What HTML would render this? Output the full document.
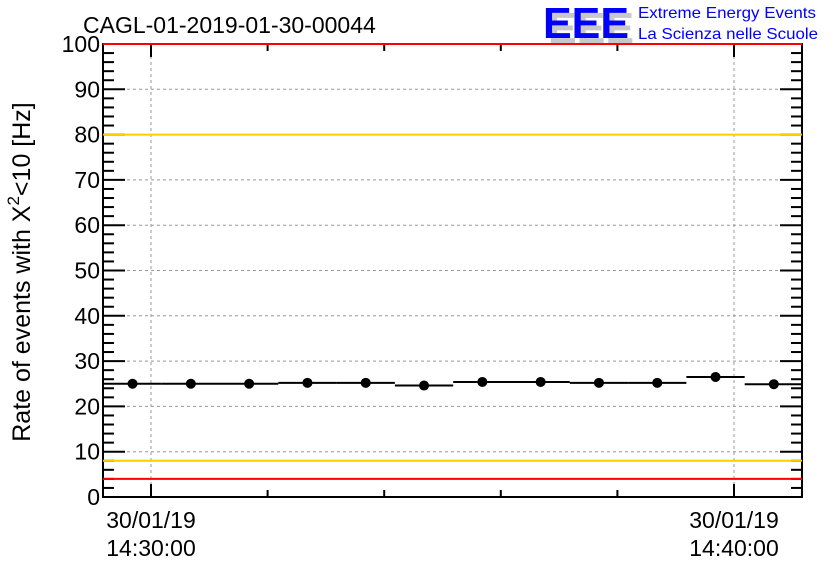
<!DOCTYPE html>
<html><head><meta charset="utf-8"><style>
html,body{margin:0;padding:0;background:#fff;}
svg{display:block;font-family:"Liberation Sans",Arial,sans-serif;}
</style></head><body>
<svg id="chart" width="836" height="572" viewBox="0 0 836 572" xmlns="http://www.w3.org/2000/svg">
<rect x="0" y="0" width="836" height="572" fill="#fff"/>
<text x="83" y="33" font-size="23" fill="#000">CAGL-01-2019-01-30-00044</text>
<g>
<text x="548" y="43" font-size="44" font-weight="bold" fill="#c8c8c8" textLength="86" lengthAdjust="spacingAndGlyphs">EEE</text>
<text x="543" y="38" font-size="44" font-weight="bold" fill="#0000ff" textLength="86" lengthAdjust="spacingAndGlyphs">EEE</text>
<text x="638" y="18" font-size="16" fill="#0000ff" textLength="178" lengthAdjust="spacingAndGlyphs">Extreme Energy Events</text>
<text x="638" y="39" font-size="16" fill="#0000ff" textLength="180" lengthAdjust="spacingAndGlyphs">La Scienza nelle Scuole</text>
</g>
<text transform="translate(30,272) rotate(-90)" text-anchor="middle" font-size="25" fill="#000">Rate of events with X<tspan dy="-11" font-size="17">2</tspan><tspan dy="11">&lt;10 [Hz]</tspan></text>
<g id="grid"></g>
<g id="axes"></g>
<g id="refs"></g>
<g id="marks"></g>
</svg>
<script>
const yTicks = [0,10,20,30,40,50,60,70,80,90,100];
const xTickSeconds = [0,600];
const xTickLabels = [["30/01/19","14:30:00"],["30/01/19","14:40:00"]];
const binCenters = [-19,41,101,161,221,281,341,401,461,521,581,641];
const rates = [25.0,25.0,25.0,25.2,25.2,24.6,25.4,25.4,25.2,25.2,26.5,24.9];
const binHalfWidth = 30;
const refLines = [{v:100,c:"#ff0000"},{v:80,c:"#ffcc00"},{v:8,c:"#ffcc00"},{v:4,c:"#ff0000"}];

const L=103,R=802,T=44,B=497;
const X0=151, PXS=(734-151)/600;
const xs=s=>X0+s*PXS;
const ys=v=>B-(B-T)*v/100;
const NS="http://www.w3.org/2000/svg";
function mk(tag,attrs,parent){const e=document.createElementNS(NS,tag);for(const k in attrs)e.setAttribute(k,attrs[k]);document.getElementById(parent).appendChild(e);return e;}

yTicks.forEach(v=>{if(v===0||v===100)return;
 const g=mk('line',{x1:L,x2:R,y1:ys(v),y2:ys(v),stroke:'#999','stroke-dasharray':'3,3','stroke-width':1},'grid');
 
 });
xTickSeconds.forEach(s=>{const g=mk('line',{x1:xs(s),x2:xs(s),y1:T,y2:B,stroke:'#999','stroke-dasharray':'3,3','stroke-width':1},'grid');
 
 });
const fr=mk('rect',{x:L,y:T,width:R-L,height:B-T,fill:'none',stroke:'#000','stroke-width':2},'axes');


for(let v=0;v<=100;v+=2){const major=v%10===0;const len=major?22:11;
 const a=mk('line',{x1:L,x2:L+len,y1:ys(v),y2:ys(v),stroke:'#000','stroke-width':2},'axes');
 
 
 const b=mk('line',{x1:R-len,x2:R,y1:ys(v),y2:ys(v),stroke:'#000','stroke-width':2},'axes');
 
 }
yTicks.forEach(v=>{const t=mk('text',{x:L-3,y:ys(v)+8,'text-anchor':'end','font-size':23,fill:'#000'},'axes');t.textContent=v;
 
 });
for(let s=-120;s<=720;s+=120){const x=xs(s);if(x<L||x>R)continue;const major=(s%600===0);const len=major?13:7;
 const a=mk('line',{x1:x,x2:x,y1:B,y2:B-len,stroke:'#000','stroke-width':2},'axes');
 
 
 const b=mk('line',{x1:x,x2:x,y1:T,y2:T+len,stroke:'#000','stroke-width':2},'axes');
 
 }
xTickSeconds.forEach((s,i)=>{const x=xs(s);
 const t1=mk('text',{x:x,y:528,'text-anchor':'middle','font-size':23,fill:'#000'},'axes');t1.textContent=xTickLabels[i][0];
 
 
 const t2=mk('text',{x:x,y:556,'text-anchor':'middle','font-size':23,fill:'#000'},'axes');t2.textContent=xTickLabels[i][1];
 
 });
refLines.forEach(r=>{const e=mk('line',{x1:L,x2:R,y1:ys(r.v),y2:ys(r.v),stroke:r.c,'stroke-width':2},'refs');
 
 });
binCenters.forEach((c,i)=>{const y=ys(rates[i]);
 const l=mk('line',{x1:xs(c-binHalfWidth),x2:xs(c+binHalfWidth),y1:y,y2:y,stroke:'#000','stroke-width':2},'marks');
 
 
 const p=mk('circle',{cx:xs(c),cy:y,r:5,fill:'#000'},'marks');
 
 });
</script>
</body></html>
